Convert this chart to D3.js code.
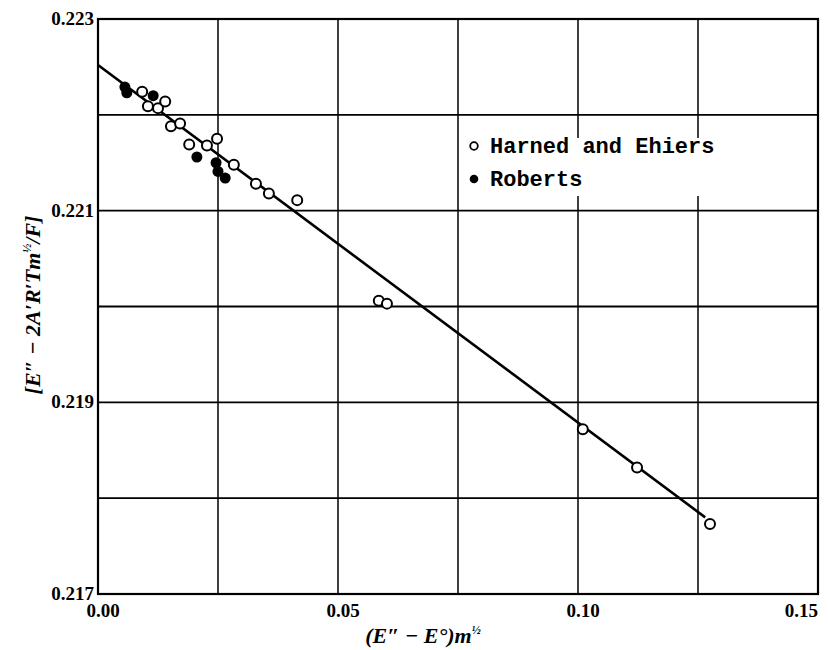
<!DOCTYPE html>
<html><head><meta charset="utf-8">
<script src="https://d3js.org/d3.v7.min.js"></script>
<style>body{margin:0;background:#fff}</style>
</head><body>
<script>
// Harned and Ehlers (open circles)
const hx = [0.0092,0.0104,0.0125,0.0140,0.0152,0.0171,0.0190,0.0227,0.0248,0.0283,0.0329,0.0356,0.0415,0.0585,0.0602,0.1010,0.1123,0.1275];
const hy = [0.22224,0.22209,0.22207,0.22214,0.22188,0.22191,0.22169,0.22168,0.22175,0.22148,0.22128,0.22118,0.22111,0.22006,0.22003,0.21872,0.21832,0.21773];
// Roberts (filled circles)
const rx = [0.0056,0.0060,0.0115,0.0206,0.0246,0.0250,0.0265];
const ry = [0.22229,0.22223,0.22220,0.22156,0.22150,0.22141,0.22134];
// fitted line
const lineX = [0, 0.1265];
const lineY = [0.22252, 0.21780];
const xTicks = [0, 0.05, 0.10, 0.15];
const xTickLabels = ["0.00","0.05","0.10","0.15"];
const yTicks = [0.223, 0.221, 0.219, 0.217];
const yTickLabels = ["0.223","0.221","0.219","0.217"];
const xGrid = [0.025,0.05,0.075,0.10,0.125];
const yGrid = [0.218,0.219,0.220,0.221,0.222];
const legendLabels = ["Harned and Ehiers","Roberts"];

const W=829,H=650;
const svg=d3.select("body").append("svg").attr("width",W).attr("height",H);
const x=d3.scaleLinear().domain([0,0.15]).range([98,818]);
const y=d3.scaleLinear().domain([0.217,0.223]).range([594,19]);

const g=svg.append("g");
g.selectAll("line.xg").data(xGrid).enter().append("line")
 .attr("x1",d=>x(d)).attr("x2",d=>x(d)).attr("y1",y(0.223)).attr("y2",y(0.217))
 .attr("stroke","#000").attr("stroke-width",1.5);
g.selectAll("line.yg").data(yGrid).enter().append("line")
 .attr("y1",d=>y(d)).attr("y2",d=>y(d)).attr("x1",x(0)).attr("x2",x(0.15))
 .attr("stroke","#000").attr("stroke-width",1.8);
g.append("rect").attr("x",x(0)).attr("y",y(0.223)).attr("width",x(0.15)-x(0)).attr("height",y(0.217)-y(0.223))
 .attr("fill","none").attr("stroke","#000").attr("stroke-width",2.2);

// fitted line
g.append("line").attr("x1",x(lineX[0])).attr("y1",y(lineY[0])).attr("x2",x(lineX[1])).attr("y2",y(lineY[1]))
 .attr("stroke","#000").attr("stroke-width",2.6);

// points
g.selectAll("circle.h").data(hx.map((v,i)=>[v,hy[i]])).enter().append("circle")
 .attr("cx",d=>x(d[0])).attr("cy",d=>y(d[1])).attr("r",5)
 .attr("fill","#fff").attr("stroke","#000").attr("stroke-width",2);
g.selectAll("circle.r").data(rx.map((v,i)=>[v,ry[i]])).enter().append("circle")
 .attr("cx",d=>x(d[0])).attr("cy",d=>y(d[1])).attr("r",5.5)
 .attr("fill","#000");

// ticks labels
const tf="'Liberation Serif', serif";
g.selectAll("text.xt").data(xTicks).enter().append("text")
 .attr("x",(d,i)=>i===xTicks.length-1?x(d):x(d)+5).attr("y",617)
 .attr("text-anchor",(d,i)=>i===xTicks.length-1?"end":"middle")
 .attr("font-family",tf).attr("font-size",19).attr("font-weight","bold")
 .text((d,i)=>xTickLabels[i]);
g.selectAll("text.yt").data(yTicks).enter().append("text")
 .attr("x",94).attr("y",d=>y(d)+6).attr("text-anchor","end")
 .attr("font-family",tf).attr("font-size",19).attr("font-weight","bold")
 .text((d,i)=>yTickLabels[i]);

// axis titles
const xl=svg.append("text").attr("x",423).attr("y",643).attr("text-anchor","middle")
 .attr("font-family",tf).attr("font-size",22).attr("font-style","italic").attr("font-weight","bold");
xl.append("tspan").text("(E″ − E°)m");
xl.append("tspan").attr("font-size",12).attr("dy",-9).text("½");

const yl=svg.append("text").attr("transform","translate(40,305) rotate(-90)").attr("text-anchor","middle")
 .attr("font-family",tf).attr("font-size",22).attr("font-style","italic").attr("font-weight","bold");
yl.append("tspan").text("[E″ − 2A′R′Tm");
yl.append("tspan").attr("font-size",12).attr("dy",-9).text("½");
yl.append("tspan").attr("dy",9).text("/F]");

// legend
const lg=svg.append("g");
const bg=lg.append("rect").attr("fill","#fff");
const lf="'Liberation Mono', monospace";
const t1=lg.append("text").attr("x",490).attr("y",153).attr("font-family",lf).attr("font-size",22).attr("font-weight","bold").text(legendLabels[0]);
const t2=lg.append("text").attr("x",490).attr("y",186).attr("font-family",lf).attr("font-size",22).attr("font-weight","bold").text(legendLabels[1]);
lg.append("circle").attr("cx",474).attr("cy",146).attr("r",3.8).attr("fill","#fff").attr("stroke","#000").attr("stroke-width",1.8);
lg.append("circle").attr("cx",474).attr("cy",179).attr("r",4.3).attr("fill","#000");
const bb=t1.node().getBBox();
bg.attr("x",464).attr("y",138).attr("width",bb.x+bb.width+6-464).attr("height",58);
</script>
</body></html>
